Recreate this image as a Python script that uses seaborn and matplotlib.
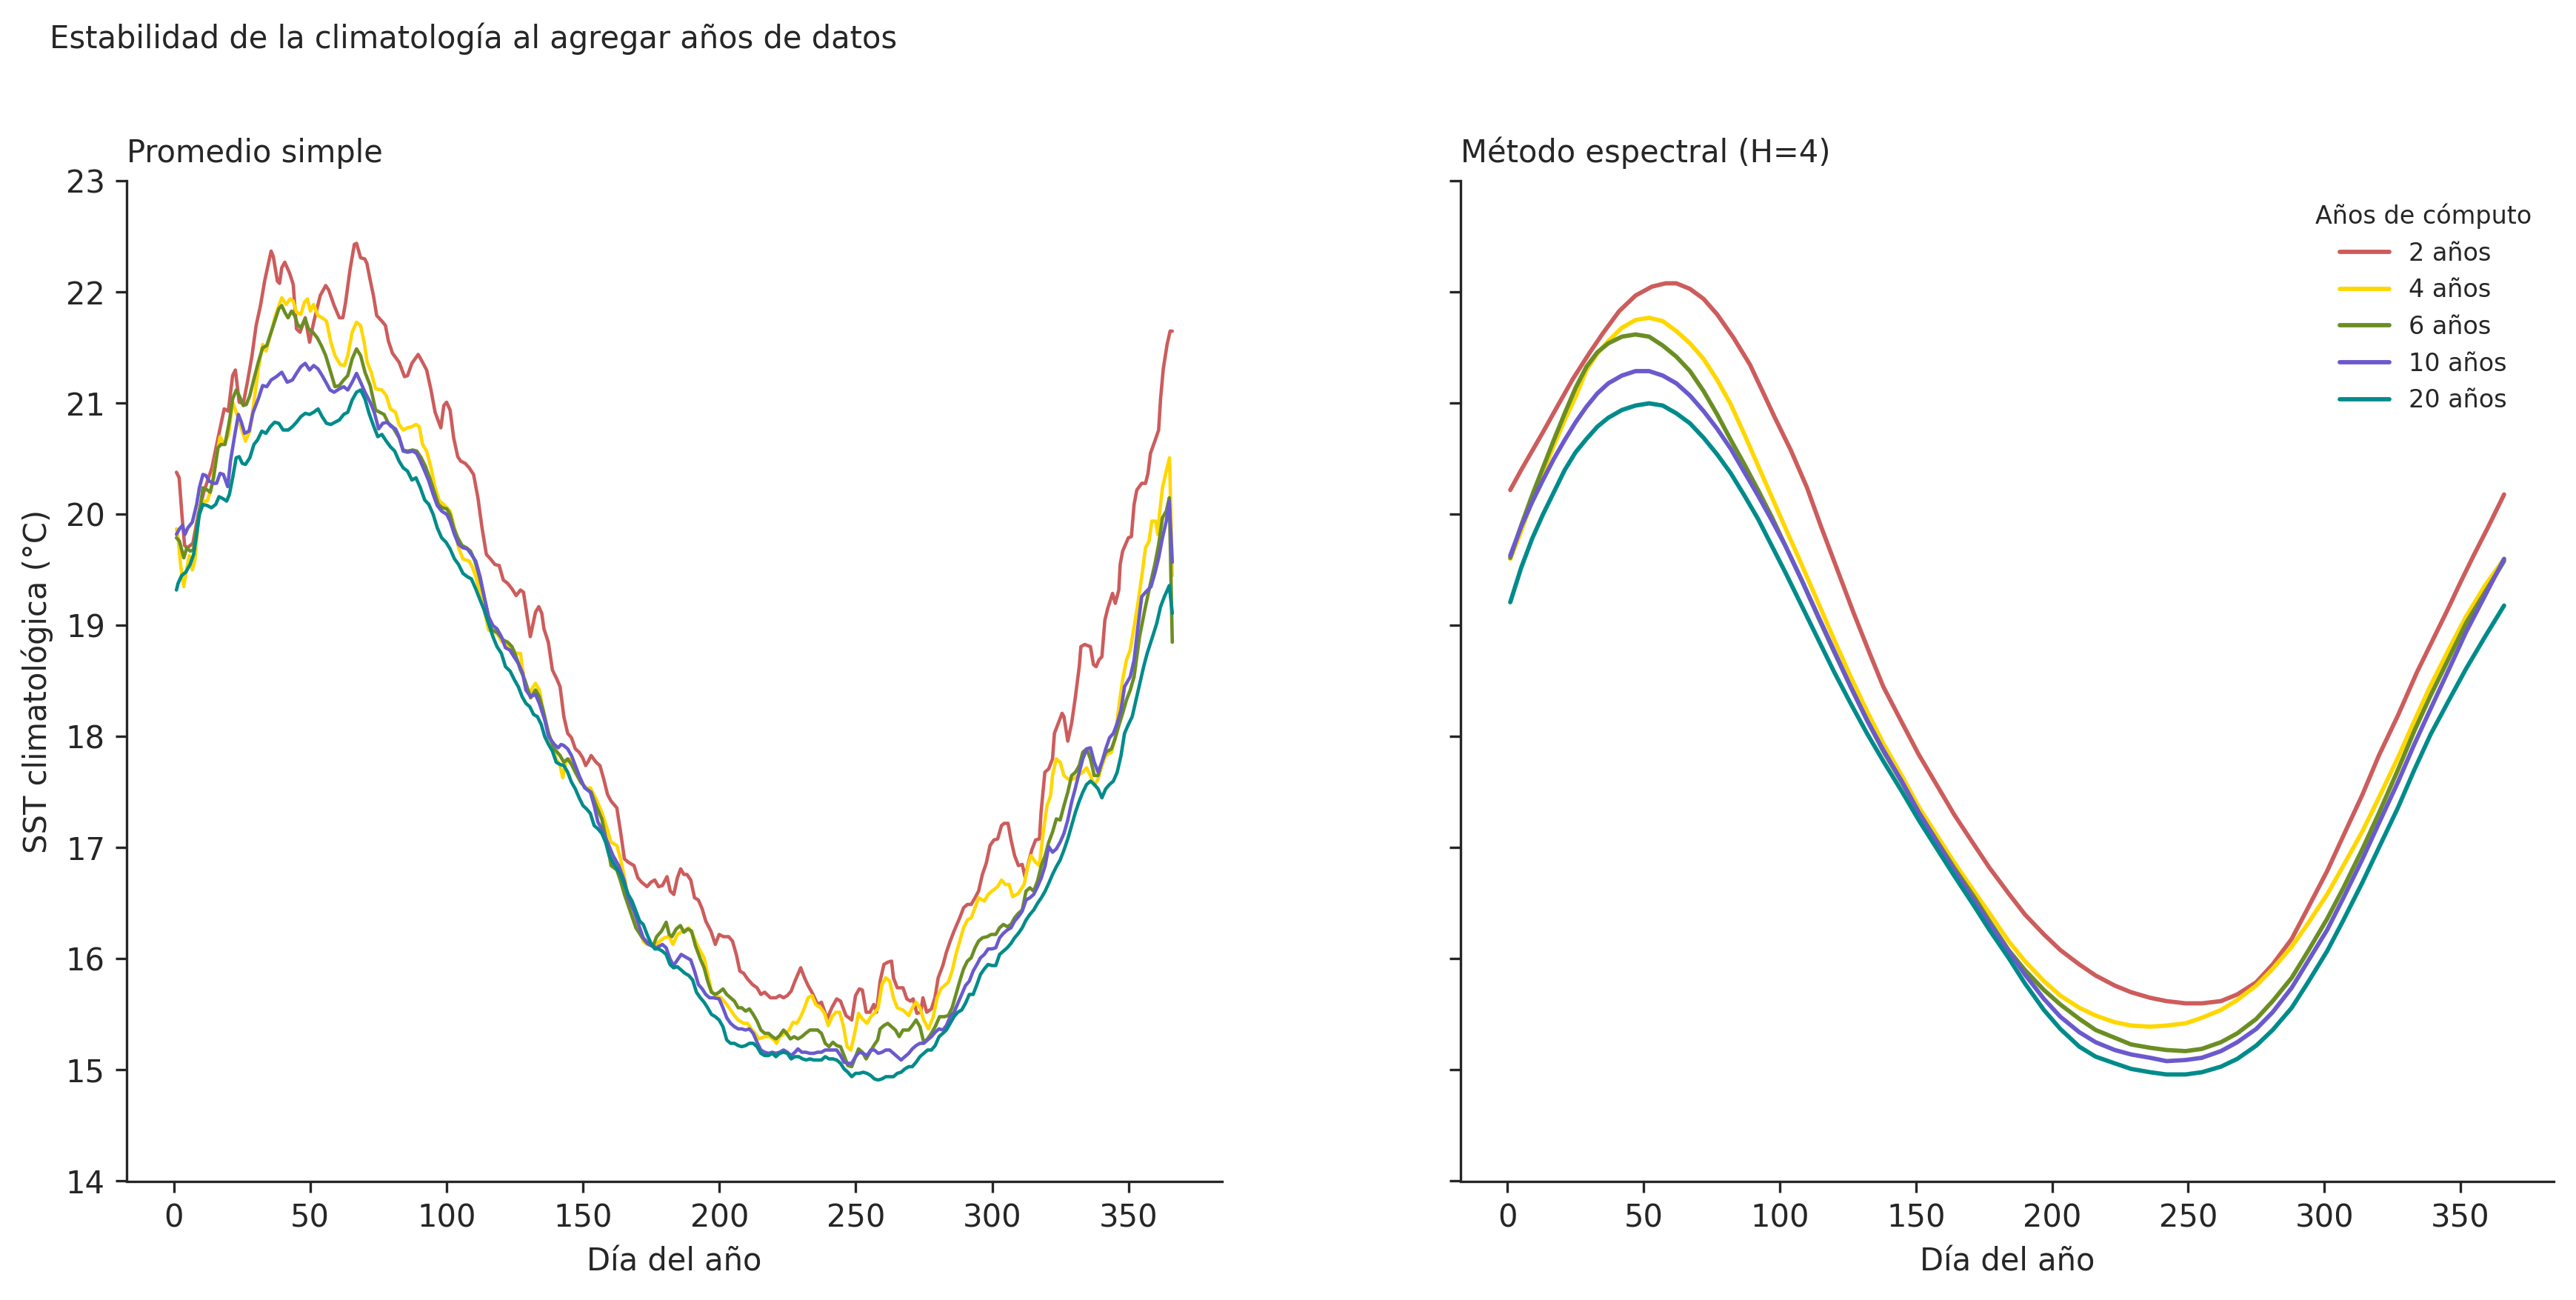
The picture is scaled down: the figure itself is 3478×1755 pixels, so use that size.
import matplotlib
matplotlib.use("Agg")
import matplotlib.pyplot as plt
import seaborn as sns
import pandas as pd

# ---------------- data ----------------
SERIES = ["2 años", "4 años", "6 años", "10 años", "20 años"]
COLORS = ["#CD5C5C", "#FFD700", "#6B8E23", "#6A5ACD", "#008B8B"]

# Left panel: simple average (day of year, SST)
S2_DAY = [1, 2, 3, 4, 5, 7, 9, 11, 14, 16, 18.5, 20, 21.6, 22.6, 24, 25.5, 27, 28.7, 30.2, 31.8, 33.4, 35.7, 36.5, 38, 38.8, 39.6, 40.7, 42.5, 43.8, 45, 46.3, 48.2, 49.8, 51.3, 53.7, 55.7, 56.8, 58.8, 60.7, 62, 63, 64.6, 66.2, 67, 68.5, 70, 70.8, 72, 73.2, 74.4, 76.3, 77.6, 78.7, 80.2, 82.6, 84.6, 85.7, 87.3, 89.6, 91.2, 92.7, 94.3, 95.8, 97.9, 99, 100, 101.3, 102.6, 104.1, 105.2, 106.8, 108.3, 109.9, 111.5, 113, 114.6, 116.1, 117.7, 119.3, 120.8, 122.4, 124, 125.5, 127.1, 128.2, 129.4, 130.7, 132.6, 133.8, 134.9, 135.7, 137.3, 138.8, 140.4, 141.6, 143, 144.4, 145.8, 147.2, 148.6, 149.9, 151, 152, 153, 154.8, 156.2, 157.6, 159, 160.3, 162.4, 163.8, 165.2, 166.6, 168.7, 170.1, 171.5, 173.5, 174.9, 176.3, 177.7, 179.1, 180.8, 182, 183.3, 184.6, 185.8, 187, 188.1, 189.5, 190.9, 192.3, 193.7, 195, 196.9, 198.5, 199.9, 201.5, 203.4, 204.8, 206.2, 207.5, 208.9, 210.3, 212.1, 213.8, 215.2, 216.6, 218.7, 220.7, 222.1, 223.5, 224.9, 226.3, 227.7, 229.8, 231.2, 232.5, 233.9, 236, 237.4, 239.5, 241.2, 243, 244.4, 246.4, 247.5, 248.5, 249.9, 251.3, 252.4, 253.8, 255.2, 256.6, 257.6, 258.9, 260.3, 261.7, 263.1, 263.8, 265.2, 267.3, 268.7, 270, 271, 272.4, 273.8, 274.6, 276, 277.7, 279, 280.2, 281.9, 283.2, 284.6, 286, 288.1, 289.5, 290.9, 292.3, 293.7, 295, 296.4, 297.8, 299.2, 300.6, 302, 303.4, 304.4, 305.8, 306.9, 308.2, 309.6, 311, 312.1, 313.1, 314.5, 315.9, 317.3, 317.9, 319.3, 320.7, 322.1, 322.8, 324.2, 325.6, 326.3, 327.7, 329.1, 330.5, 331.9, 332.5, 333.9, 336, 337.1, 338.1, 339.1, 340.2, 341.3, 342.3, 344.1, 345.1, 346.4, 346.9, 347.8, 349.9, 351, 352, 353, 354.8, 356.2, 357.1, 358, 359.6, 361, 361.7, 362.7, 364.1, 365.2, 366]
S2_SST = [20.38, 20.33, 20.0, 19.72, 19.70, 19.74, 20.0, 20.2, 20.42, 20.66, 20.95, 20.93, 21.25, 21.3, 21.01, 21.0, 21.19, 21.43, 21.7, 21.88, 22.11, 22.37, 22.32, 22.1, 22.08, 22.22, 22.27, 22.17, 22.07, 21.67, 21.64, 21.77, 21.55, 21.73, 21.97, 22.06, 22.02, 21.88, 21.77, 21.77, 21.91, 22.2, 22.43, 22.44, 22.31, 22.3, 22.26, 22.11, 21.97, 21.79, 21.74, 21.7, 21.56, 21.45, 21.37, 21.24, 21.25, 21.36, 21.44, 21.37, 21.3, 21.12, 20.92, 20.78, 20.98, 21.01, 20.94, 20.69, 20.52, 20.48, 20.46, 20.42, 20.36, 20.15, 19.88, 19.64, 19.6, 19.55, 19.54, 19.41, 19.38, 19.33, 19.27, 19.32, 19.3, 19.11, 18.9, 19.12, 19.17, 19.11, 18.97, 18.85, 18.6, 18.52, 18.45, 18.18, 18.03, 17.99, 17.89, 17.86, 17.81, 17.74, 17.78, 17.83, 17.77, 17.74, 17.62, 17.48, 17.42, 17.36, 17.14, 16.9, 16.87, 16.84, 16.73, 16.69, 16.65, 16.69, 16.71, 16.65, 16.66, 16.74, 16.61, 16.58, 16.73, 16.81, 16.76, 16.76, 16.71, 16.55, 16.53, 16.45, 16.34, 16.25, 16.13, 16.22, 16.2, 16.2, 16.16, 16.04, 15.89, 15.87, 15.82, 15.77, 15.74, 15.68, 15.7, 15.65, 15.65, 15.67, 15.65, 15.67, 15.71, 15.8, 15.92, 15.83, 15.76, 15.7, 15.59, 15.61, 15.46, 15.56, 15.64, 15.62, 15.49, 15.47, 15.45, 15.67, 15.73, 15.72, 15.52, 15.52, 15.59, 15.52, 15.8, 15.95, 15.97, 15.98, 15.83, 15.74, 15.74, 15.64, 15.62, 15.64, 15.51, 15.52, 15.65, 15.52, 15.55, 15.65, 15.83, 15.94, 16.06, 16.16, 16.25, 16.37, 16.46, 16.49, 16.49, 16.55, 16.61, 16.76, 16.86, 17.02, 17.07, 17.08, 17.2, 17.22, 17.22, 17.07, 16.93, 16.84, 16.85, 16.73, 16.85, 16.98, 17.07, 17.08, 17.32, 17.68, 17.71, 17.8, 18.03, 18.12, 18.21, 18.18, 17.96, 18.12, 18.36, 18.63, 18.81, 18.83, 18.81, 18.65, 18.63, 18.69, 18.72, 19.05, 19.15, 19.29, 19.2, 19.32, 19.55, 19.67, 19.79, 19.8, 20.09, 20.22, 20.28, 20.28, 20.37, 20.55, 20.66, 20.76, 21.04, 21.31, 21.53, 21.65, 21.65]

S4_DAY = [1, 1.6, 2.6, 3.7, 4.7, 5.7, 6.8, 7.8, 9.1, 10.7, 12.3, 13.8, 15.4, 17, 18.5, 20.1, 21.6, 23.2, 24.7, 26.3, 27.9, 29.4, 31, 32.6, 33.8, 35.7, 37.3, 39.6, 41.2, 42.7, 43.8, 45, 46.6, 47.9, 49, 50.1, 51.3, 52.9, 54.4, 56, 57.6, 59.1, 61, 62.6, 63.8, 65.4, 67, 68.5, 69.8, 70.9, 72.4, 74, 76.3, 77.9, 79.4, 81.3, 82.6, 84.1, 85.7, 87.3, 88.8, 90, 91.2, 92.7, 94.3, 95.8, 97.4, 99, 101.3, 102.9, 104.4, 106, 108.3, 109.4, 110.7, 112.3, 113.8, 115.4, 117, 118.5, 120.1, 122.4, 124, 125.5, 127.1, 127.7, 129.1, 130.5, 132.6, 134, 136, 138.1, 140.2, 141.6, 142.6, 143.7, 145.1, 147.2, 149.2, 151.3, 152.7, 154.8, 156.9, 158.5, 160.3, 162.4, 163.8, 165.2, 166.6, 168.7, 170.8, 172.1, 173.5, 174.9, 176.3, 177.7, 179.8, 181.6, 183, 184.6, 186.7, 188.8, 190.2, 191.6, 193, 194.4, 195.7, 197.1, 198.5, 200.6, 202.7, 204.1, 205.5, 206.9, 208.9, 210.3, 211.7, 213.1, 214.5, 216.6, 218.7, 220, 221, 222.1, 224.2, 225.6, 227, 228.4, 229.8, 231.2, 232.5, 233.9, 235.3, 237.1, 238.5, 239.9, 241.3, 242.7, 244.1, 245.5, 246.8, 248.2, 249.6, 251, 252.4, 254.1, 255.5, 256.8, 258.2, 259.6, 261, 262.4, 263.8, 265.2, 267.3, 269.4, 270.7, 272.1, 273.5, 274.9, 276.6, 278.4, 279.8, 281.2, 282.5, 283.9, 285.3, 286.7, 288.1, 289.5, 290.9, 292.3, 293.7, 295, 297.1, 298.5, 299.9, 302, 303.4, 304.8, 306.2, 307.5, 309.6, 311.7, 313.1, 314.2, 315.9, 317.3, 318.7, 320.1, 321.4, 322.1, 323.5, 324.9, 326.3, 327.7, 329.8, 331.9, 333.2, 334.6, 336, 337.4, 338.8, 340.2, 341.6, 343.7, 345, 346.4, 347.8, 349.2, 350.6, 352, 353.4, 354.8, 356.2, 357.5, 358.5, 359.9, 360.7, 361.3, 362.4, 363.8, 365, 366]
S4_SST = [19.87, 19.79, 19.53, 19.35, 19.5, 19.63, 19.5, 19.59, 19.97, 20.12, 20.12, 20.24, 20.48, 20.7, 20.63, 20.72, 21.01, 20.9, 20.78, 20.66, 20.75, 21.01, 21.31, 21.53, 21.47, 21.64, 21.79, 21.95, 21.89, 21.94, 21.92, 21.82, 21.8, 21.91, 21.94, 21.83, 21.89, 21.79, 21.77, 21.74, 21.55, 21.43, 21.35, 21.34, 21.43, 21.64, 21.73, 21.7, 21.55, 21.37, 21.28, 21.13, 21.12, 21.07, 20.95, 20.92, 20.81, 20.76, 20.78, 20.79, 20.81, 20.79, 20.63, 20.57, 20.42, 20.24, 20.12, 20.09, 20.03, 19.88, 19.7, 19.6, 19.58, 19.53, 19.44, 19.29, 19.14, 18.96, 18.94, 18.93, 18.86, 18.81, 18.79, 18.75, 18.75, 18.63, 18.42, 18.4, 18.48, 18.42, 18.15, 17.95, 17.8, 17.74, 17.63, 17.77, 17.8, 17.69, 17.59, 17.53, 17.54, 17.44, 17.32, 17.2, 17.05, 17.02, 16.9, 16.73, 16.55, 16.43, 16.25, 16.16, 16.13, 16.14, 16.11, 16.15, 16.19, 16.2, 16.13, 16.22, 16.25, 16.28, 16.22, 16.14, 16.07, 16.01, 15.86, 15.71, 15.67, 15.65, 15.59, 15.54, 15.49, 15.45, 15.42, 15.42, 15.37, 15.33, 15.28, 15.3, 15.3, 15.27, 15.24, 15.3, 15.33, 15.36, 15.43, 15.42, 15.48, 15.56, 15.65, 15.67, 15.59, 15.56, 15.51, 15.4, 15.48, 15.52, 15.52, 15.39, 15.21, 15.18, 15.33, 15.51, 15.46, 15.42, 15.48, 15.51, 15.56, 15.77, 15.83, 15.8, 15.65, 15.56, 15.54, 15.49, 15.56, 15.61, 15.56, 15.45, 15.37, 15.48, 15.65, 15.73, 15.76, 15.79, 15.89, 16.04, 16.16, 16.28, 16.35, 16.37, 16.46, 16.55, 16.52, 16.58, 16.61, 16.65, 16.71, 16.67, 16.67, 16.56, 16.59, 16.67, 16.84, 16.93, 16.87, 16.84, 17.14, 17.38, 17.47, 17.65, 17.8, 17.77, 17.65, 17.62, 17.62, 17.66, 17.68, 17.72, 17.65, 17.56, 17.62, 17.74, 17.83, 17.86, 17.98, 18.27, 18.51, 18.69, 18.78, 18.99, 19.2, 19.44, 19.7, 19.76, 19.94, 19.94, 19.82, 20.0, 20.24, 20.39, 20.51, 19.45]

S6_DAY = [1, 2.1, 3.7, 4.8, 6, 7.2, 8.4, 9.9, 10.7, 12.3, 13.4, 14.6, 16.2, 17.3, 18.8, 20.4, 21.6, 22.9, 24, 25.5, 26.6, 27.9, 29.4, 31, 32.6, 34.1, 35.7, 37.3, 38.5, 39.6, 40.7, 41.9, 43.2, 44.3, 45.4, 46.6, 48.2, 49.4, 51, 52.6, 54.1, 55.7, 57.3, 59.1, 60.7, 62.3, 63.8, 65.4, 67, 68.5, 70.1, 72, 74, 75.5, 77.1, 78.7, 80.2, 82.6, 84.1, 85.7, 87.6, 89.1, 90.7, 92.3, 93.8, 95.4, 97, 98.5, 100.1, 101.3, 102.6, 104.1, 105.7, 107.3, 108.8, 110.4, 112, 113.5, 115.1, 116.6, 118.5, 120.8, 122.4, 124, 125.5, 127.1, 128.7, 130.8, 132.6, 134, 135.4, 137.4, 139.5, 141.6, 143, 144.4, 145.8, 147.2, 149.2, 151.3, 153, 154.8, 156.9, 159, 160.3, 162.4, 163.8, 165.2, 167.3, 169.4, 171.5, 173.5, 175.6, 177, 178.8, 180.5, 181.6, 182.6, 184.2, 185.7, 187, 188.5, 189.8, 191.2, 193, 194.4, 195.7, 197.1, 198.5, 199.9, 201.3, 202.7, 204.1, 205.5, 206.9, 208.2, 209.6, 211, 212.4, 213.8, 215.2, 216.6, 218, 219.4, 220.7, 222.1, 223.5, 224.6, 226, 227.4, 228.8, 230.2, 231.6, 233.2, 234.6, 236, 237.4, 238.8, 240.2, 241.6, 243, 244.4, 245.7, 247.1, 248.5, 249.9, 251, 252.4, 253.8, 255.2, 256.6, 258, 258.9, 260.3, 261.7, 263.1, 264.5, 265.9, 267.3, 269.4, 270.7, 272.1, 273.5, 274.9, 276.3, 277.7, 279.1, 280.7, 282.5, 283.9, 285.3, 286.7, 288.1, 289.5, 290.9, 292.3, 293.7, 295, 296.4, 298.2, 299.6, 301.3, 302.7, 304.1, 305.5, 306.9, 308.2, 309.6, 311, 312.4, 313.8, 315.2, 316.6, 318, 319.4, 320.7, 322.1, 323.5, 324.9, 326.3, 327.7, 329.1, 330.5, 331.9, 333.2, 334.6, 336, 337.4, 338.8, 340.2, 341.6, 343.7, 345, 346.4, 347.8, 349.2, 350.6, 352, 354, 356, 358, 359.6, 361, 362.4, 363.8, 364.9, 366]
S6_SST = [19.79, 19.76, 19.61, 19.7, 19.67, 19.68, 19.88, 20.09, 20.24, 20.22, 20.2, 20.33, 20.6, 20.63, 20.63, 20.84, 21.04, 21.12, 21.07, 20.98, 20.99, 21.07, 21.22, 21.37, 21.5, 21.52, 21.64, 21.76, 21.85, 21.88, 21.82, 21.77, 21.83, 21.79, 21.71, 21.68, 21.76, 21.67, 21.64, 21.59, 21.52, 21.43, 21.3, 21.15, 21.16, 21.21, 21.25, 21.4, 21.49, 21.43, 21.28, 21.16, 20.94, 20.92, 20.9, 20.82, 20.79, 20.69, 20.58, 20.57, 20.58, 20.57, 20.51, 20.43, 20.33, 20.21, 20.09, 20.06, 20.05, 20.0, 19.88, 19.79, 19.72, 19.7, 19.67, 19.58, 19.44, 19.29, 19.11, 18.96, 18.94, 18.87, 18.85, 18.81, 18.72, 18.6, 18.51, 18.35, 18.42, 18.36, 18.24, 18.03, 17.89, 17.83, 17.77, 17.8, 17.75, 17.68, 17.59, 17.53, 17.5, 17.38, 17.26, 17.02, 16.84, 16.8, 16.7, 16.58, 16.43, 16.28, 16.2, 16.14, 16.11, 16.2, 16.25, 16.33, 16.22, 16.2, 16.27, 16.3, 16.24, 16.27, 16.25, 16.12, 16.0, 15.92, 15.8, 15.7, 15.68, 15.7, 15.73, 15.68, 15.65, 15.62, 15.56, 15.56, 15.53, 15.55, 15.5, 15.44, 15.36, 15.33, 15.33, 15.3, 15.28, 15.31, 15.36, 15.33, 15.28, 15.3, 15.28, 15.3, 15.33, 15.36, 15.36, 15.36, 15.33, 15.24, 15.21, 15.25, 15.22, 15.21, 15.13, 15.04, 15.03, 15.12, 15.19, 15.16, 15.1, 15.16, 15.22, 15.27, 15.37, 15.4, 15.42, 15.39, 15.36, 15.3, 15.36, 15.36, 15.4, 15.45, 15.39, 15.25, 15.28, 15.33, 15.39, 15.48, 15.48, 15.49, 15.56, 15.68, 15.8, 15.91, 15.98, 16.01, 16.1, 16.16, 16.19, 16.2, 16.22, 16.22, 16.28, 16.31, 16.29, 16.31, 16.37, 16.41, 16.44, 16.61, 16.64, 16.61, 16.7, 16.84, 16.93, 17.05, 17.14, 17.26, 17.25, 17.38, 17.5, 17.65, 17.68, 17.74, 17.86, 17.89, 17.8, 17.65, 17.65, 17.77, 17.86, 17.89, 17.98, 18.1, 18.21, 18.33, 18.42, 18.54, 18.9, 19.15, 19.38, 19.55, 19.73, 19.97, 20.03, 20.15, 18.85]

S10_DAY = [1, 2.1, 3.2, 4.1, 5.2, 6.8, 8.4, 9.4, 10.7, 11.8, 13, 14.6, 15.7, 17, 18.2, 19.8, 20.8, 22.4, 23.7, 24.8, 26, 27.6, 29.1, 31, 32.6, 34.1, 35.7, 37.6, 39.6, 41.6, 43.5, 45, 46.6, 48.2, 49.8, 51.3, 52.9, 54.4, 56, 57.3, 58.8, 60.7, 62.3, 63.8, 65.4, 67, 68.5, 70.1, 72, 73.5, 75.1, 76.6, 78.2, 79.8, 81.3, 82.6, 84.1, 85.7, 87.6, 89, 90.4, 92, 93.5, 95.1, 96.6, 98.2, 100.1, 101.3, 102.9, 104.4, 106, 107.6, 109.1, 110.7, 112.3, 113.8, 115.4, 117, 118.5, 120.1, 121.6, 123.2, 124.7, 126.3, 127.9, 129.1, 130.8, 132.6, 134, 136, 137.4, 139.5, 140.9, 142, 143, 144.4, 145.8, 147.2, 148.6, 150.6, 152.7, 154.1, 155.5, 156.9, 159, 161, 163.1, 165.2, 166.6, 168.7, 170.8, 172.1, 174.2, 177, 179.1, 180.5, 181.9, 183.2, 184.6, 186, 188.1, 189.5, 190.9, 192.3, 193.7, 195, 196.4, 197.8, 199.9, 201.3, 202.7, 204.1, 205.5, 206.9, 208.2, 209.6, 211, 212.4, 213.8, 215.2, 216.6, 218, 219.4, 220.7, 222.1, 223.5, 224.9, 226.3, 227.7, 228.8, 230.2, 231.6, 233.2, 234.6, 236, 237.4, 238.8, 240.2, 241.6, 243, 244.4, 245.7, 247.1, 248.5, 249.9, 251.3, 252.7, 254.1, 255.5, 256.8, 258.2, 259.6, 261, 262.4, 263.8, 265.2, 266.6, 268, 269.4, 270.7, 272.1, 273.5, 274.9, 276.3, 277.7, 279.1, 280.5, 281.9, 283.2, 284.6, 286, 287.4, 288.8, 290.2, 291.6, 293, 294.4, 295.7, 297.1, 298.5, 299.9, 301.3, 302.7, 304.1, 305.5, 306.9, 308.2, 309.6, 311, 312.4, 313.8, 315.2, 316.6, 318, 319.4, 320.7, 322.1, 323.5, 324.9, 326.3, 327.7, 329.1, 330.5, 331.9, 333.2, 334.6, 336, 337.4, 338.8, 340.2, 341.6, 343, 344.4, 345.8, 347.2, 348.5, 350.6, 352, 353.4, 354.8, 356.2, 358.2, 359.6, 361, 362.4, 363.8, 364.9, 366]
S10_SST = [19.82, 19.87, 19.9, 19.82, 19.88, 19.93, 20.09, 20.24, 20.36, 20.35, 20.3, 20.28, 20.28, 20.37, 20.36, 20.25, 20.48, 20.72, 20.9, 20.83, 20.73, 20.75, 20.92, 21.04, 21.16, 21.15, 21.21, 21.24, 21.28, 21.19, 21.21, 21.27, 21.33, 21.36, 21.3, 21.34, 21.31, 21.25, 21.18, 21.12, 21.1, 21.13, 21.15, 21.12, 21.19, 21.27, 21.19, 21.1, 21.01, 20.92, 20.77, 20.82, 20.83, 20.79, 20.77, 20.7, 20.57, 20.56, 20.57, 20.55, 20.48, 20.39, 20.3, 20.18, 20.08, 20.03, 20.0, 19.94, 19.82, 19.73, 19.7, 19.69, 19.64, 19.58, 19.44, 19.26, 19.08, 19.0, 18.97, 18.9, 18.8, 18.78, 18.72, 18.66, 18.57, 18.42, 18.36, 18.38, 18.3, 18.15, 18.0, 17.93, 17.9, 17.93, 17.92, 17.89, 17.83, 17.74, 17.65, 17.54, 17.5, 17.38, 17.23, 17.17, 17.05, 16.93, 16.84, 16.7, 16.55, 16.43, 16.28, 16.19, 16.13, 16.1, 16.13, 16.1, 16.0, 15.94, 15.99, 16.04, 16.01, 15.99, 15.89, 15.77, 15.73, 15.68, 15.65, 15.65, 15.64, 15.56, 15.47, 15.42, 15.39, 15.37, 15.37, 15.36, 15.37, 15.33, 15.25, 15.18, 15.16, 15.15, 15.16, 15.15, 15.16, 15.18, 15.16, 15.13, 15.16, 15.19, 15.16, 15.16, 15.15, 15.15, 15.16, 15.16, 15.18, 15.18, 15.18, 15.18, 15.13, 15.07, 15.06, 15.06, 15.12, 15.16, 15.15, 15.13, 15.18, 15.18, 15.15, 15.16, 15.18, 15.18, 15.15, 15.12, 15.09, 15.12, 15.15, 15.19, 15.22, 15.24, 15.24, 15.27, 15.3, 15.34, 15.37, 15.36, 15.4, 15.48, 15.52, 15.6, 15.68, 15.76, 15.8, 15.89, 15.95, 16.01, 16.04, 16.09, 16.09, 16.1, 16.19, 16.23, 16.26, 16.28, 16.34, 16.38, 16.43, 16.53, 16.55, 16.58, 16.65, 16.73, 16.84, 17.01, 16.96, 16.99, 17.05, 17.13, 17.25, 17.41, 17.54, 17.68, 17.8, 17.89, 17.9, 17.77, 17.68, 17.77, 17.89, 17.99, 18.03, 18.12, 18.24, 18.45, 18.54, 18.69, 18.99, 19.26, 19.3, 19.35, 19.47, 19.61, 19.79, 19.94, 20.12, 19.57]

S20_DAY = [1, 1.6, 2.9, 4.4, 6, 7.3, 8.4, 9.4, 10.7, 12.3, 13.8, 15.4, 16.6, 18.2, 19.4, 20.4, 21.6, 22.9, 24, 25.1, 26.3, 27.9, 29.4, 30.7, 32.3, 33.8, 35.4, 37, 38.5, 40.1, 42, 43.5, 45, 46.6, 48.2, 49.8, 51.3, 52.9, 54.4, 56, 57.6, 59.1, 60.7, 62.3, 63.8, 65.4, 67, 68.5, 70.1, 71.6, 73.2, 74.8, 76.3, 77.9, 79.4, 81, 82.6, 84.1, 85.7, 87.3, 88.8, 90.4, 92, 93.5, 95.1, 96.6, 98.2, 99.8, 101.3, 102.9, 104.4, 106, 107.6, 109.1, 110.7, 112.3, 113.8, 115.4, 117, 118.5, 120.1, 121.6, 123.3, 124.9, 126.3, 127.7, 129.1, 130.5, 131.9, 133.3, 134.7, 136, 137.4, 138.8, 140.2, 141.6, 143, 144.4, 145.8, 147.2, 148.6, 150, 151.3, 152.7, 154.1, 155.5, 156.9, 158.3, 159.6, 161, 162.4, 163.8, 165.2, 166.6, 168, 169.4, 170.8, 172.1, 173.5, 174.9, 176.3, 177.7, 179.1, 180.5, 181.9, 183.2, 184.6, 186, 187.4, 188.8, 190.2, 191.6, 193, 194.4, 195.7, 197.1, 198.5, 199.9, 201.3, 202.7, 204.1, 205.5, 206.9, 208.2, 209.6, 211, 212.4, 213.8, 215.2, 216.6, 218, 219.4, 220.7, 222.1, 223.5, 224.9, 226.3, 227.7, 229.1, 230.5, 231.8, 233.2, 234.6, 236, 237.4, 238.8, 240.2, 241.6, 243, 244.4, 245.7, 247.1, 248.5, 249.9, 251.3, 252.7, 254.1, 255.5, 256.8, 258.2, 259.6, 261, 262.4, 263.8, 265.2, 266.6, 268, 269.4, 270.7, 272.1, 273.5, 274.9, 276.3, 277.7, 279.1, 280.5, 281.9, 283.2, 284.6, 286, 287.4, 288.8, 290.2, 291.6, 293, 294.4, 295.7, 297.1, 298.5, 299.9, 301.3, 302.7, 304.1, 305.5, 306.9, 308.2, 309.6, 311, 312.4, 313.8, 315.2, 316.6, 318, 319.4, 320.7, 322.1, 323.5, 324.9, 326.3, 327.7, 329.1, 330.5, 331.9, 333.2, 334.6, 336, 337.4, 338.8, 340.2, 341.6, 343, 344.4, 345.8, 347.2, 348.5, 349.9, 351.3, 352.7, 354.1, 355.5, 356.8, 358.9, 360.3, 361.7, 363.1, 364.9, 366]
S20_SST = [19.32, 19.38, 19.45, 19.48, 19.55, 19.64, 19.82, 20.0, 20.09, 20.08, 20.06, 20.09, 20.16, 20.14, 20.12, 20.18, 20.33, 20.51, 20.52, 20.46, 20.45, 20.51, 20.63, 20.67, 20.75, 20.73, 20.79, 20.83, 20.82, 20.76, 20.76, 20.79, 20.83, 20.88, 20.91, 20.9, 20.92, 20.95, 20.88, 20.82, 20.81, 20.83, 20.85, 20.9, 20.92, 21.03, 21.1, 21.12, 21.04, 20.91, 20.8, 20.7, 20.72, 20.66, 20.61, 20.57, 20.48, 20.42, 20.39, 20.31, 20.33, 20.24, 20.13, 20.09, 20.0, 19.88, 19.79, 19.75, 19.69, 19.6, 19.55, 19.47, 19.44, 19.42, 19.33, 19.23, 19.14, 19.02, 18.9, 18.81, 18.75, 18.63, 18.59, 18.51, 18.45, 18.36, 18.3, 18.27, 18.2, 18.18, 18.11, 18.0, 17.93, 17.87, 17.77, 17.75, 17.74, 17.68, 17.59, 17.53, 17.45, 17.38, 17.35, 17.31, 17.2, 17.17, 17.13, 17.05, 16.93, 16.87, 16.81, 16.76, 16.67, 16.58, 16.52, 16.43, 16.34, 16.31, 16.22, 16.14, 16.09, 16.09, 16.07, 16.04, 15.95, 15.92, 15.93, 15.9, 15.87, 15.85, 15.81, 15.7, 15.65, 15.61, 15.56, 15.5, 15.48, 15.45, 15.39, 15.27, 15.24, 15.24, 15.22, 15.21, 15.22, 15.24, 15.24, 15.21, 15.15, 15.13, 15.13, 15.15, 15.12, 15.15, 15.16, 15.15, 15.1, 15.12, 15.12, 15.1, 15.09, 15.1, 15.09, 15.09, 15.09, 15.12, 15.1, 15.1, 15.09, 15.06, 15.01, 14.98, 14.94, 14.97, 14.97, 14.98, 14.97, 14.95, 14.92, 14.91, 14.92, 14.94, 14.94, 14.94, 14.97, 14.98, 15.01, 15.03, 15.03, 15.07, 15.12, 15.15, 15.18, 15.18, 15.22, 15.3, 15.33, 15.36, 15.42, 15.48, 15.52, 15.54, 15.6, 15.68, 15.68, 15.77, 15.86, 15.91, 15.95, 15.94, 15.94, 16.04, 16.07, 16.1, 16.14, 16.19, 16.23, 16.28, 16.35, 16.4, 16.44, 16.5, 16.55, 16.61, 16.68, 16.76, 16.83, 16.89, 16.98, 17.08, 17.2, 17.32, 17.42, 17.5, 17.57, 17.6, 17.57, 17.53, 17.45, 17.53, 17.57, 17.6, 17.68, 17.83, 18.03, 18.11, 18.18, 18.33, 18.48, 18.63, 18.75, 18.91, 19.02, 19.17, 19.26, 19.36, 19.11]

# Right panel: spectral method, H=4 (day of year, SST)
H2_DAY = [1, 5, 9, 13, 18, 24, 30, 35, 41, 47, 53, 58, 62, 67, 72, 77, 83, 89, 94, 98, 104, 110, 115, 121, 127, 133, 138, 145, 151, 158, 164, 171, 177, 184, 190, 197, 203, 210, 216, 223, 229, 236, 242, 249, 255, 262, 268, 275, 281, 288, 294, 301, 307, 314, 320, 327, 334, 340, 345, 350, 355, 360, 366]
H2_SST = [20.22, 20.40, 20.57, 20.74, 20.96, 21.22, 21.45, 21.63, 21.83, 21.97, 22.05, 22.08, 22.08, 22.03, 21.94, 21.80, 21.59, 21.35, 21.09, 20.88, 20.58, 20.24, 19.90, 19.51, 19.12, 18.75, 18.45, 18.12, 17.84, 17.55, 17.30, 17.04, 16.82, 16.59, 16.40, 16.22, 16.08, 15.95, 15.85, 15.76, 15.70, 15.65, 15.62, 15.60, 15.60, 15.62, 15.68, 15.79, 15.95, 16.18, 16.46, 16.79, 17.11, 17.48, 17.83, 18.19, 18.58, 18.88, 19.13, 19.39, 19.64, 19.88, 20.18]
H4_DAY = [1, 5, 9, 13, 17, 21, 25, 29, 33, 37, 42, 47, 52, 57, 62, 67, 72, 77, 82, 87, 92, 97, 102, 108, 114, 120, 126, 132, 138, 145, 151, 158, 164, 171, 177, 184, 190, 197, 203, 210, 216, 223, 229, 236, 242, 249, 255, 262, 268, 275, 281, 288, 294, 301, 307, 314, 320, 327, 333, 339, 346, 352, 359, 366]
H4_SST = [19.60, 19.85, 20.12, 20.38, 20.62, 20.85, 21.06, 21.30, 21.45, 21.56, 21.68, 21.75, 21.77, 21.74, 21.65, 21.54, 21.40, 21.21, 20.99, 20.72, 20.44, 20.16, 19.88, 19.55, 19.21, 18.87, 18.54, 18.23, 17.94, 17.64, 17.37, 17.10, 16.87, 16.62, 16.41, 16.16, 15.98, 15.80, 15.67, 15.56, 15.49, 15.43, 15.40, 15.39, 15.40, 15.42, 15.47, 15.54, 15.63, 15.76, 15.91, 16.11, 16.32, 16.58, 16.84, 17.15, 17.45, 17.81, 18.14, 18.46, 18.80, 19.08, 19.36, 19.60]
H6_DAY = [1, 5, 9, 13, 17, 21, 25, 29, 33, 37, 42, 47, 52, 57, 62, 67, 72, 77, 82, 87, 92, 97, 102, 108, 114, 120, 126, 132, 138, 145, 151, 158, 164, 171, 177, 184, 190, 197, 203, 210, 216, 223, 229, 236, 242, 249, 255, 262, 268, 275, 281, 288, 294, 301, 307, 314, 320, 327, 333, 339, 346, 352, 359, 366]
H6_SST = [19.61, 19.90, 20.17, 20.42, 20.67, 20.91, 21.14, 21.33, 21.46, 21.54, 21.60, 21.62, 21.60, 21.52, 21.42, 21.29, 21.11, 20.90, 20.67, 20.45, 20.22, 19.98, 19.72, 19.41, 19.08, 18.76, 18.45, 18.15, 17.87, 17.58, 17.32, 17.05, 16.82, 16.57, 16.34, 16.08, 15.90, 15.72, 15.59, 15.46, 15.36, 15.29, 15.23, 15.20, 15.18, 15.17, 15.19, 15.25, 15.33, 15.46, 15.62, 15.83, 16.07, 16.36, 16.64, 16.99, 17.31, 17.70, 18.05, 18.37, 18.72, 19.02, 19.30, 19.58]
H10_DAY = [1, 5, 9, 13, 17, 21, 25, 29, 33, 37, 42, 47, 52, 57, 62, 67, 72, 77, 82, 87, 92, 97, 102, 108, 114, 120, 126, 132, 138, 145, 151, 158, 164, 171, 177, 184, 190, 197, 203, 210, 216, 223, 229, 236, 242, 249, 255, 262, 268, 275, 281, 288, 294, 301, 307, 314, 320, 327, 333, 339, 346, 352, 359, 366]
H10_SST = [19.63, 19.89, 20.11, 20.31, 20.50, 20.67, 20.83, 20.97, 21.09, 21.18, 21.25, 21.29, 21.29, 21.25, 21.18, 21.07, 20.93, 20.77, 20.59, 20.38, 20.17, 19.95, 19.72, 19.41, 19.09, 18.77, 18.45, 18.15, 17.88, 17.59, 17.32, 17.04, 16.80, 16.54, 16.32, 16.07, 15.86, 15.64, 15.48, 15.34, 15.25, 15.18, 15.14, 15.11, 15.08, 15.09, 15.11, 15.17, 15.25, 15.37, 15.52, 15.74, 15.98, 16.26, 16.55, 16.90, 17.22, 17.59, 17.93, 18.25, 18.62, 18.94, 19.27, 19.60]
H20_DAY = [1, 5, 9, 13, 17, 21, 25, 29, 33, 37, 42, 47, 52, 57, 62, 67, 72, 77, 82, 87, 92, 97, 102, 108, 114, 120, 126, 132, 138, 145, 151, 158, 164, 171, 177, 184, 190, 197, 203, 210, 216, 223, 229, 236, 242, 249, 255, 262, 268, 275, 281, 288, 294, 301, 307, 314, 320, 327, 333, 339, 346, 352, 359, 366]
H20_SST = [19.21, 19.52, 19.78, 20.00, 20.20, 20.40, 20.56, 20.68, 20.79, 20.87, 20.94, 20.98, 21.00, 20.98, 20.91, 20.82, 20.69, 20.54, 20.37, 20.17, 19.96, 19.72, 19.48, 19.18, 18.88, 18.58, 18.30, 18.03, 17.78, 17.50, 17.25, 16.98, 16.75, 16.49, 16.26, 16.01, 15.78, 15.54, 15.37, 15.21, 15.12, 15.06, 15.01, 14.98, 14.96, 14.96, 14.98, 15.03, 15.10, 15.22, 15.36, 15.56, 15.79, 16.07, 16.35, 16.69, 17.00, 17.36, 17.70, 18.02, 18.34, 18.61, 18.90, 19.18]


def long_frame(days_list, vals_list):
    parts = []
    for name, d, v in zip(SERIES, days_list, vals_list):
        parts.append(pd.DataFrame({"dia": d, "sst": v, "serie": name}))
    return pd.concat(parts, ignore_index=True)


df_simple = long_frame([S2_DAY, S4_DAY, S6_DAY, S10_DAY, S20_DAY],
                       [S2_SST, S4_SST, S6_SST, S10_SST, S20_SST])
df_spec = long_frame([H2_DAY, H4_DAY, H6_DAY, H10_DAY, H20_DAY],
                     [H2_SST, H4_SST, H6_SST, H10_SST, H20_SST])

# ---------------- figure ----------------
sns.set_style("ticks")
plt.rcParams["font.family"] = ["DejaVu Sans"]
plt.rcParams["font.size"] = 10

W, H = 3478, 1755
fig = plt.figure(figsize=(W / 300, H / 300), dpi=300)
ax1 = fig.add_axes([171 / W, 1 - 1594.5 / H, 1479 / W, 1350 / H])
ax2 = fig.add_axes([1972 / W, 1 - 1594.5 / H, 1476 / W, 1350 / H], sharey=ax1)

palette = dict(zip(SERIES, COLORS))

sns.lineplot(data=df_simple, x="dia", y="sst", hue="serie", hue_order=SERIES,
             palette=palette, estimator=None, sort=True, linewidth=1.1,
             legend=False, ax=ax1)
sns.lineplot(data=df_spec, x="dia", y="sst", hue="serie", hue_order=SERIES,
             palette=palette, estimator=None, sort=True, linewidth=1.4,
             legend=True, ax=ax2)

for ax in (ax1, ax2):
    ax.set_ylim(14, 23)
    ax.set_yticks(range(14, 24))
    ax.set_xticks(range(0, 351, 50))
    ax.set_xlabel("Día del año", fontsize=10)
    ax.tick_params(labelsize=10)
    sns.despine(ax=ax)

ax1.set_ylabel("SST climatológica (°C)", fontsize=10)
ax2.set_ylabel("")
ax2.tick_params(labelleft=False)

ax1.set_title("Promedio simple", loc="left", fontsize=10)
ax2.set_title("Método espectral (H=4)", loc="left", fontsize=10)

leg = ax2.legend(title="Años de cómputo", fontsize=8, title_fontsize=8,
                 frameon=False, loc="upper right")

fig.text(67 / W, 1 - 52 / H, "Estabilidad de la climatología al agregar años de datos",
         ha="left", va="center", fontsize=10)

fig.savefig("out.png", dpi=300)
